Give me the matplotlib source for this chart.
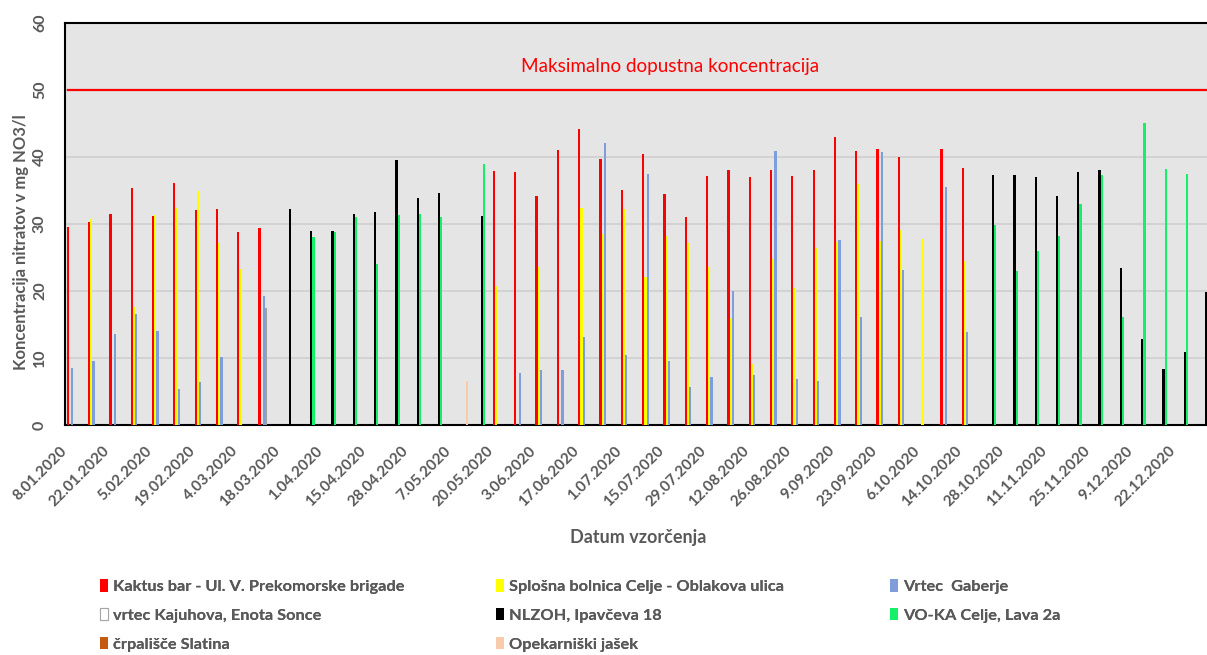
import numpy as np
import matplotlib.pyplot as plt
from matplotlib.patches import Patch
from matplotlib.transforms import blended_transform_factory
from numpy import nan

plt.rcParams['font.family'] = ['Lato', 'DejaVu Sans']

# Tedenski termini vzorčenja, na osi je izpisan vsak drugi
n_dates = 54
date_labels = [
    "8.01.2020", "22.01.2020", "5.02.2020", "19.02.2020", "4.03.2020",
    "18.03.2020", "1.04.2020", "15.04.2020", "28.04.2020", "7.05.2020",
    "20.05.2020", "3.06.2020", "17.06.2020", "1.07.2020", "15.07.2020",
    "29.07.2020", "12.08.2020", "26.08.2020", "9.09.2020", "23.09.2020",
    "6.10.2020", "14.10.2020", "28.10.2020", "11.11.2020", "25.11.2020",
    "9.12.2020", "22.12.2020",
]

# Koncentracije nitratov (mg NO3/l), nan = ni vzorca
kaktus = [29.5, 30.3, 31.5, 35.3, 31.1, 36.1, 32.0, 32.2, 28.8, 29.4,
          nan, nan, nan, nan, nan, nan, nan, nan, nan, nan,
          37.9, 37.8, 34.2, 41.0, 44.2, 39.7, 35.0, 40.4, 34.4, 31.0,
          37.1, 38.0, 37.0, 38.1, 37.2, 38.0, 43.0, 40.9, 41.2, 39.9,
          nan, 41.1, 38.3, nan, nan, nan, nan, nan, nan, nan,
          nan, nan, nan, nan]
bolnica = [nan, 30.7, nan, 17.6, 31.3, 32.3, 34.9, 27.1, 23.2, nan,
           nan, nan, nan, nan, nan, nan, nan, nan, nan, nan,
           20.8, nan, 23.5, nan, 32.4, 28.5, 32.2, 22.1, 28.2, 27.1,
           23.5, 16.0, 9.1, 24.8, 20.5, 26.4, 27.3, 36.0, 27.4, 29.1,
           27.8, nan, 24.4, nan, nan, nan, nan, nan, nan, nan,
           nan, nan, nan, nan]
gaberje = [8.5, 9.6, 13.5, 16.5, 14.0, 5.4, 6.4, 10.1, nan, 19.2,
           nan, nan, nan, nan, nan, nan, nan, nan, nan, nan,
           nan, 7.8, 8.2, 8.2, 13.1, 42.0, 10.5, 37.4, 9.5, 5.7,
           7.2, 20.0, 7.4, 40.9, 6.8, 6.5, 27.6, 16.1, 40.7, 23.1,
           nan, 35.5, 13.9, nan, nan, nan, nan, nan, nan, nan,
           nan, nan, nan, nan]
kajuhova = [nan] * 9 + [17.5] + [nan] * 44
nlzoh = [nan, nan, nan, nan, nan, nan, nan, nan, nan, nan,
         32.2, 29.0, 29.0, 31.4, 31.8, 39.5, 33.8, 34.6, nan, 31.2,
         nan, nan, nan, nan, nan, nan, nan, nan, nan, nan,
         nan, nan, nan, nan, nan, nan, nan, nan, nan, nan,
         nan, nan, nan, 37.3, 37.3, 37.0, 34.2, 37.8, 38.0, 23.4,
         12.8, 8.4, 10.9, 19.8]
voka = [nan, nan, nan, nan, nan, nan, nan, nan, nan, nan,
        nan, 28.0, 28.8, 31.0, 24.0, 31.3, 31.4, 31.0, nan, 38.9,
        nan, nan, nan, nan, nan, nan, nan, nan, nan, nan,
        nan, nan, nan, nan, nan, nan, nan, nan, nan, nan,
        nan, nan, nan, 29.9, 23.0, 25.9, 28.2, 33.0, 37.3, 16.1,
        45.0, 38.2, 37.4, nan]
slatina = [nan] * n_dates
opekarniski = [nan] * 18 + [6.5] + [nan] * 35

max_conc = 50

series = [
    ("Kaktus bar - Ul. V. Prekomorske brigade", kaktus, "#ff0000"),
    ("Splošna bolnica Celje - Oblakova ulica", bolnica, "#ffff00"),
    ("Vrtec  Gaberje", gaberje, "#7f9ddb"),
    ("vrtec Kajuhova, Enota Sonce", kajuhova, "#a0a0a0"),
    ("NLZOH, Ipavčeva 18", nlzoh, "#000000"),
    ("VO-KA Celje, Lava 2a", voka, "#14f06a"),
    ("črpališče Slatina", slatina, "#c55a11"),
    ("Opekarniški jašek", opekarniski, "#f8cbad"),
]

text_col = "#595959"

fig = plt.figure(figsize=(12.07, 6.55), dpi=100)
ax = fig.add_axes([65 / 1207, 230 / 655, 1150.7 / 1207, 402.3 / 655])
ax.set_facecolor("#e5e5e5")

x = np.arange(n_dates)
w = 1 / 9.5
for i, (name, vals, color) in enumerate(series):
    ax.bar(x + (i - 3.5) * w, np.array(vals, dtype=float), width=w,
           color=color, linewidth=0, zorder=3)

ax.set_xlim(-0.5, n_dates - 0.5)
ax.set_ylim(0, 60)
ax.set_yticks(range(0, 61, 10))
ax.yaxis.grid(True, color="#cfcfcf", linewidth=1.2, zorder=1)
ax.set_axisbelow(True)

ax.axhline(max_conc, xmin=0.0025, color="#ff0000", linewidth=1.6, zorder=4)
trans = blended_transform_factory(ax.transAxes, ax.transData)
ax.text(0.526, max_conc + 3.5, "Maksimalno dopustna koncentracija",
        transform=trans, ha="center", va="center", color="#ff0000",
        fontsize=13.6)

for side in ["left", "top", "bottom", "right"]:
    ax.spines[side].set_linewidth(1.5)
    ax.spines[side].set_color("black")

ax.tick_params(axis="both", length=0)
ax.tick_params(axis="y", pad=13)
ax.set_yticklabels([str(v) for v in range(0, 61, 10)], rotation=90,
                   va="center", fontsize=11.5, fontweight="bold",
                   color=text_col)

# oznake datumov so poravnane na levi rob tedna
ax.set_xticks(x[::2] - 0.5)
ax.set_xticklabels(date_labels, rotation=45, ha="right", va="center",
                   rotation_mode="anchor", fontsize=11, fontweight="bold",
                   color=text_col)
ax.tick_params(axis="x", pad=17)

ax.set_ylabel("Koncentracija nitratov v mg NO3/l", fontsize=12,
              fontweight="bold", color=text_col)
ax.yaxis.label.set_va("center")
ax.yaxis.set_label_coords(-0.038, 0.455)

fig.text(638 / 1207, 1 - 537 / 655, "Datum vzorčenja", ha="center",
         va="center", fontsize=13, fontweight="bold", color=text_col)

# Legenda v treh stolpcih
handles = []
for name, vals, color in series:
    if name.startswith("vrtec Kajuhova"):
        handles.append(Patch(facecolor="white", edgecolor="#a6a6a6",
                             linewidth=0.8, label=name))
    else:
        handles.append(Patch(facecolor=color, edgecolor="none", label=name))

columns = [handles[0::3], handles[1::3], handles[2::3]]
col_x = [100, 496, 890]
for hs, cx in zip(columns, col_x):
    leg = fig.legend(handles=hs, loc="upper left",
                     bbox_to_anchor=(cx / 1207, 1 - 579 / 655),
                     frameon=False,
                     prop={"weight": "bold", "size": 11.8},
                     borderpad=0, borderaxespad=0, handlelength=0.5,
                     handleheight=0.8, handletextpad=0.3,
                     labelspacing=0.85)
    for t in leg.get_texts():
        t.set_color(text_col)
    fig.add_artist(leg)

fig.savefig("out.png", dpi=100)
